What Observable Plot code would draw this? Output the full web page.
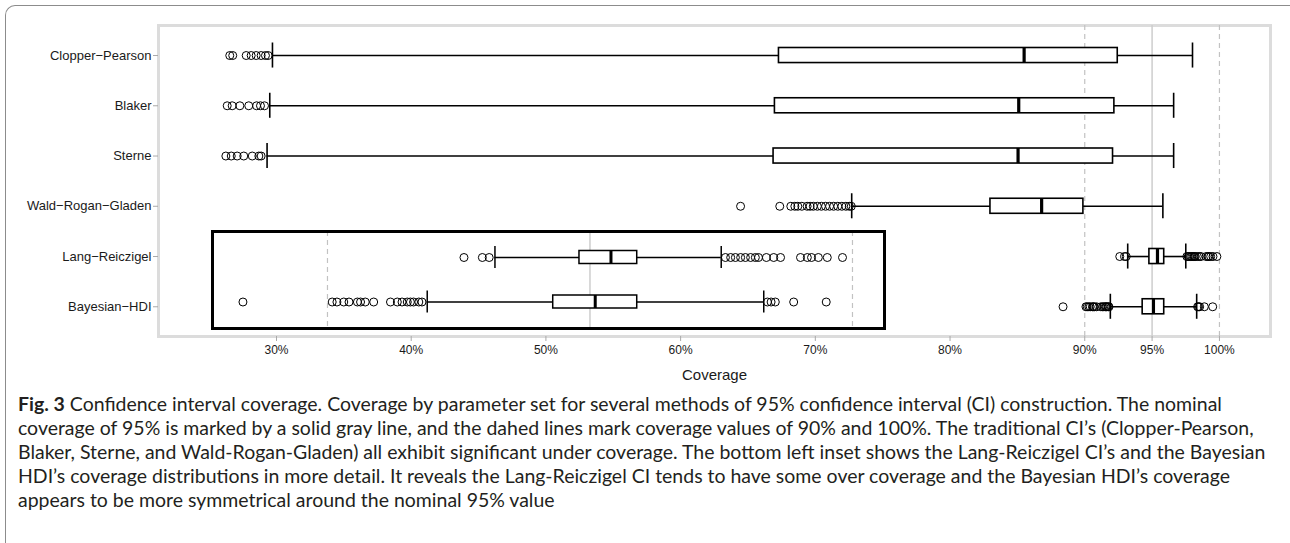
<!DOCTYPE html>
<html><head><meta charset="utf-8">
<script src="https://cdn.jsdelivr.net/npm/d3@7"></script>
<script src="https://cdn.jsdelivr.net/npm/@observablehq/plot@0.6"></script>
<style>
html,body{margin:0;padding:0;background:#fff;}
#wrap{position:relative;width:1290px;height:543px;overflow:hidden;font-family:"Liberation Sans",Arial,sans-serif;}
#frame{position:absolute;left:5px;top:5px;width:1400px;height:700px;border-left:1px solid #8c8c8c;border-top:1px solid #8c8c8c;border-top-left-radius:10px;}
#main{position:absolute;left:0;top:0;}
#inset{position:absolute;left:210px;top:229px;}
#caption{position:absolute;left:18px;top:392px;font-family:Lato,"Liberation Sans",sans-serif;font-size:17px;line-height:24px;color:#231f20;white-space:nowrap;}
#caption span{display:block;}
</style></head>
<body><div id="wrap"><div id="frame"></div><div id="main"></div><div id="inset"></div><div id="caption"></div></div>
<script>
// ---- data ----
const methods = ["Clopper−Pearson","Blaker","Sterne","Wald−Rogan−Gladen","Lang−Reiczigel","Bayesian−HDI"];
const whiskerLow  = [29.7, 29.5, 29.3, 72.7, 93.19, 91.9];
const q1          = [67.3, 67.0, 66.9, 83.0, 94.8, 94.3];
const median      = [85.5, 85.1, 85.05, 86.8, 95.4, 95.1];
const q3          = [92.45, 92.2, 92.1, 89.9, 95.9, 95.9];
const whiskerHigh = [98.0, 96.6, 96.6, 95.8, 97.5, 98.31];
const outliersCP = [26.53, 26.75, 27.75, 28.12, 28.49, 28.86, 29.18, 29.38];
const outliersBlaker = [26.34, 26.71, 27.28, 27.94, 28.52, 28.81, 29.11];
const outliersSterne = [26.24, 26.64, 27.08, 27.57, 28.2, 28.69, 28.86];
const outliersWRG = [64.45, 67.36, 68.18, 68.48, 68.7, 69.0, 69.39, 69.61, 69.85, 70.15, 70.45, 70.76, 71.06, 71.36, 71.67, 71.97, 72.27, 72.52, 72.67];
const outliersLR = [92.6, 92.95, 93.08, 97.58, 97.68, 97.77, 97.87, 97.96, 98.06, 98.15, 98.21, 98.36, 98.5, 98.63, 99.01, 99.14, 99.22, 99.35, 99.52, 99.81];
const outliersHDI = [88.39, 90.09, 90.18, 90.31, 90.41, 90.57, 90.63, 90.72, 90.88, 91.2, 91.33, 91.42, 91.52, 91.58, 91.64, 91.74, 91.8, 98.38, 98.45, 98.53, 98.88, 99.5];
const insetMethods = ["Lang−Reiczigel","Bayesian−HDI"];
const xTicks = [30, 40, 50, 60, 70, 80, 90, 95, 100];
const dashedRefs = [90, 100];
const solidRefs = [95];
const xLabel = "Coverage";
const captionBold = "Fig. 3";
const captionLines = [
 " Confidence interval coverage. Coverage by parameter set for several methods of 95% confidence interval (CI) construction. The nominal",
 "coverage of 95% is marked by a solid gray line, and the dahed lines mark coverage values of 90% and 100%. The traditional CI’s (Clopper-Pearson,",
 "Blaker, Sterne, and Wald-Rogan-Gladen) all exhibit significant under coverage. The bottom left inset shows the Lang-Reiczigel CI’s and the Bayesian",
 "HDI’s coverage distributions in more detail. It reveals the Lang-Reiczigel CI tends to have some over coverage and the Bayesian HDI’s coverage",
 "appears to be more symmetrical around the nominal 95% value"
];

// ---- tables ----
const stats = methods.map((m, i) => ({method: m, lo: whiskerLow[i], q1: q1[i], med: median[i], q3: q3[i], hi: whiskerHigh[i]}));
const outlierLists = [outliersCP, outliersBlaker, outliersSterne, outliersWRG, outliersLR, outliersHDI];
const outliers = outlierLists.flatMap((arr, i) => arr.map(v => ({method: methods[i], value: v})));
const insetStats = stats.filter(d => insetMethods.includes(d.method));
const insetOutliers = outliers.filter(d => insetMethods.includes(d.method));

function boxMarks(data, outl, boxInset, capInset, lw, medW) {
  return [
    Plot.ruleY(data, {y: "method", x1: "lo", x2: "q1", stroke: "black", strokeWidth: lw}),
    Plot.ruleY(data, {y: "method", x1: "q3", x2: "hi", stroke: "black", strokeWidth: lw}),
    Plot.tickX(data, {x: "lo", y: "method", stroke: "black", strokeWidth: lw, insetTop: capInset, insetBottom: capInset}),
    Plot.tickX(data, {x: "hi", y: "method", stroke: "black", strokeWidth: lw, insetTop: capInset, insetBottom: capInset}),
    Plot.barX(data, {y: "method", x1: "q1", x2: "q3", fill: "white", stroke: "black", strokeWidth: lw, insetTop: boxInset, insetBottom: boxInset}),
    Plot.tickX(data, {x: "med", y: "method", stroke: "black", strokeWidth: medW, insetTop: boxInset, insetBottom: boxInset}),
    Plot.dot(outl, {x: "value", y: "method", r: 4, stroke: "black", strokeWidth: 1, fill: "none"})
  ];
}

const main = Plot.plot({
  width: 1290, height: 390,
  marginLeft: 158, marginRight: 20, marginTop: 25, marginBottom: 54,
  style: {background: "transparent", fontFamily: "Liberation Sans, Arial, sans-serif"},
  x: {domain: [21.24, 103.79]},
  y: {type: "band", domain: methods, range: [29.9, 331.4], padding: 0, round: false},
  marks: [
    Plot.frame({stroke: "#dcdcdc", strokeWidth: 3}),
    Plot.ruleX(dashedRefs, {stroke: "#c2c2c2", strokeWidth: 1.2, strokeDasharray: "5,4"}),
    Plot.ruleX(solidRefs, {stroke: "#cdcdcd", strokeWidth: 1.5}),
    ...boxMarks(stats, outliers, 17.6, 12.6, 1.6, 3.2),
    Plot.axisY({tickSize: 5, tickPadding: 2, stroke: "#aaa", fill: "#1a1a1a", fontSize: 13, label: null}),
    Plot.axisX({ticks: xTicks, tickSize: 5, tickPadding: 4, tickFormat: d => d + "%", stroke: "#aaa", fill: "#1a1a1a", fontSize: 12, label: null}),
    Plot.text([xLabel], {text: d => d, frameAnchor: "bottom", dy: 43, fontSize: 15, fill: "#1a1a1a"})
  ]
});
document.getElementById("main").appendChild(main);

const inset = Plot.plot({
  width: 676, height: 101,
  marginLeft: 2, marginRight: 2, marginTop: 2, marginBottom: 2,
  style: {background: "white", fontFamily: "Liberation Sans, Arial, sans-serif"},
  x: {domain: [87.81, 100.61], axis: null},
  y: {type: "band", domain: insetMethods, range: [5.75, 94.75], padding: 0, round: false, axis: null},
  marks: [
    Plot.ruleX(dashedRefs, {stroke: "#c2c2c2", strokeWidth: 1.2, strokeDasharray: "5,4"}),
    Plot.ruleX(solidRefs, {stroke: "#cdcdcd", strokeWidth: 1.5}),
    ...boxMarks(insetStats, insetOutliers, 15.75, 11.25, 1.5, 3),
    Plot.frame({stroke: "black", strokeWidth: 3})
  ]
});
document.getElementById("inset").appendChild(inset);

// caption
const cap = document.getElementById("caption");
captionLines.forEach((t, i) => {
  const s = document.createElement("span");
  if (i === 0) { const b = document.createElement("b"); b.textContent = captionBold; s.appendChild(b); }
  s.appendChild(document.createTextNode(t));
  cap.appendChild(s);
});
const third = cap.children[2];
const w = third.getBoundingClientRect().width;
const fs = 17 * 1248 / w;
cap.style.fontSize = fs.toFixed(2) + "px";
</script></body></html>
